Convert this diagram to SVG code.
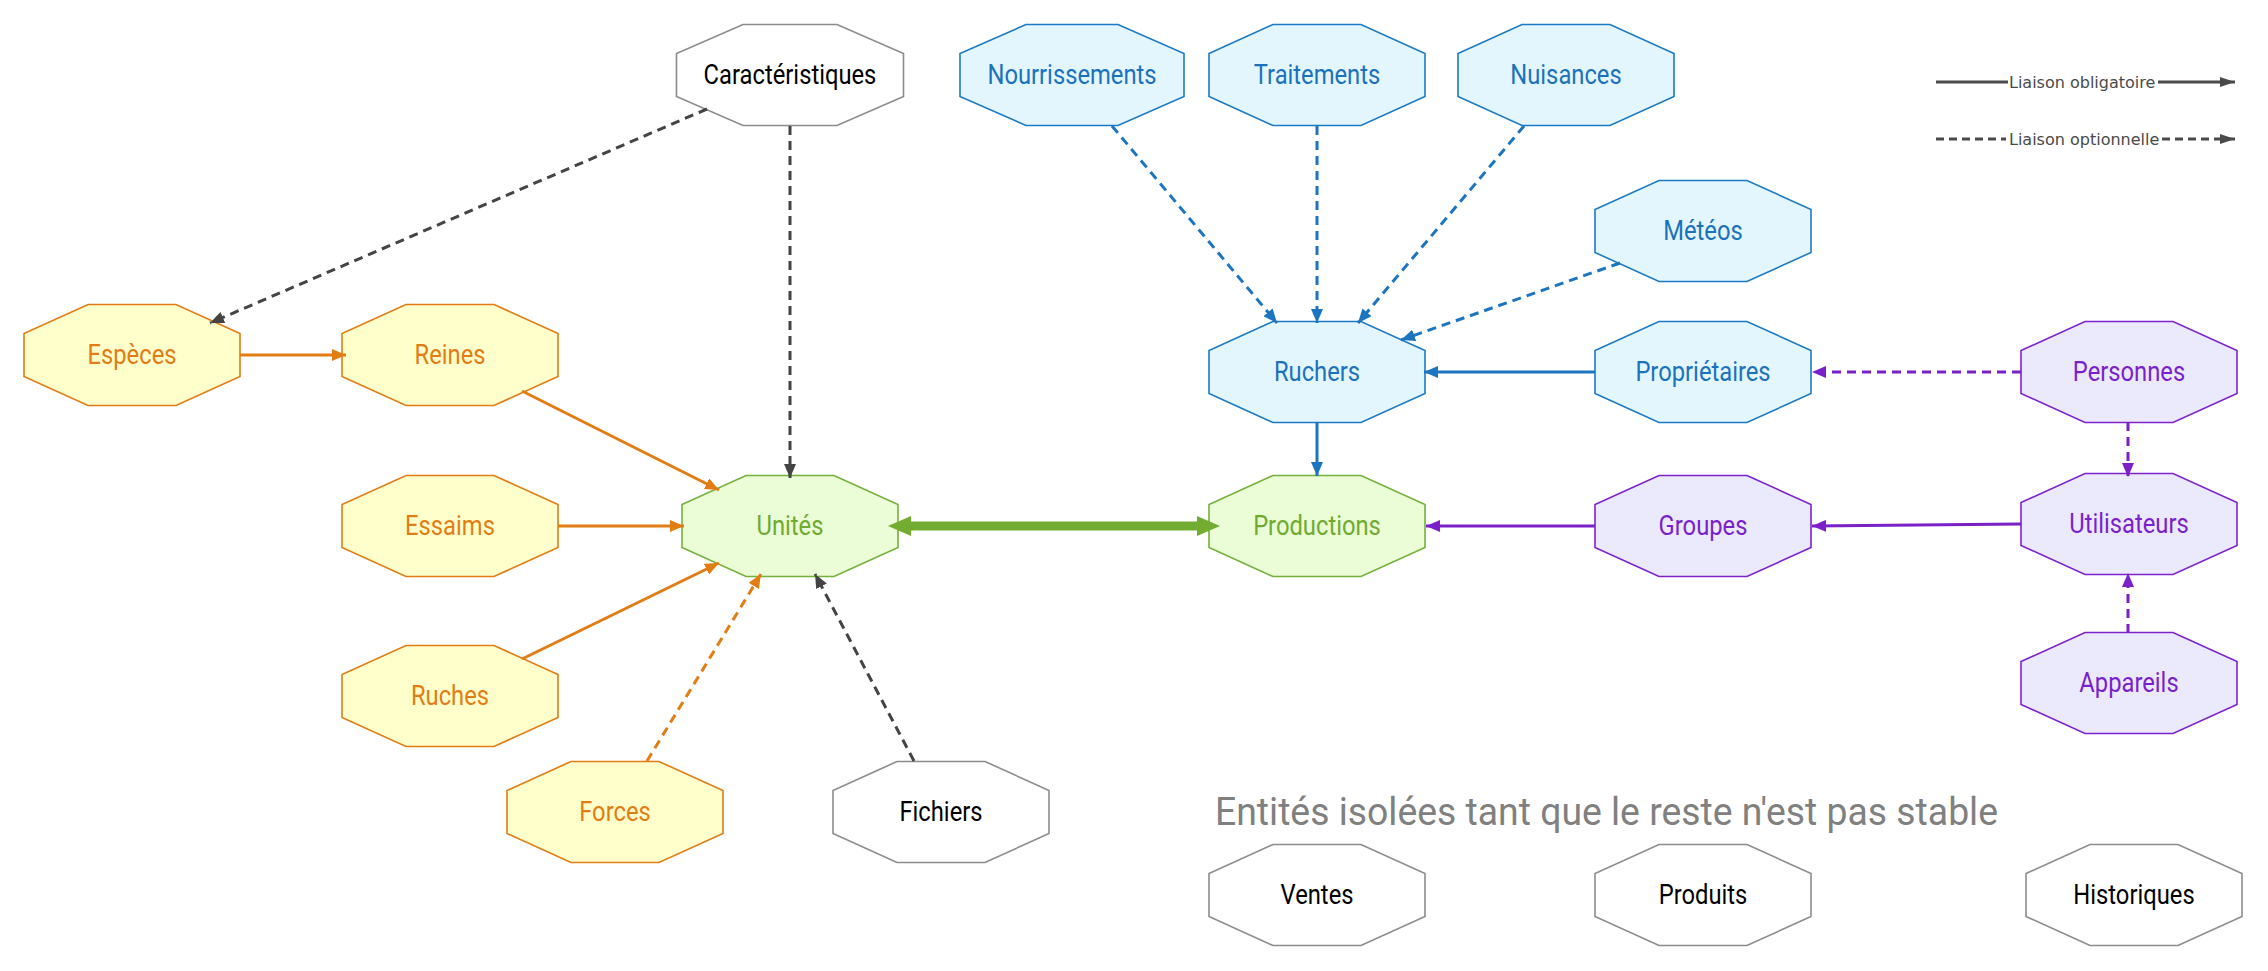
<svg xmlns="http://www.w3.org/2000/svg" width="2268" height="971" viewBox="0 0 2268 971">
<style>
.node use,.node polygon{stroke-width:1.6}
.node text{font-family:Roboto,"Liberation Sans",sans-serif;font-size:27px;text-anchor:middle}
.or use,.or polygon{fill:#ffffcc;stroke:#e27d14}.or text{fill:#e27d14}
.gr use,.gr polygon{fill:#ebfdd7;stroke:#74b13a}.gr text{fill:#6eab2e}
.bl use,.bl polygon{fill:#e4f6fd;stroke:#1b7ac4}.bl text{fill:#1a72bd}
.pu use,.pu polygon{fill:#ebe9fc;stroke:#7e22ce}.pu text{fill:#7a1fcc}
.gy use,.gy polygon{fill:#ffffff;stroke:#8c8c8c}.gy text{fill:#000000}
.e{fill:none;stroke-width:3}
.d{stroke-dasharray:9 6}
.c-or{stroke:#e27d14}.c-dk{stroke:#444444}.c-bl{stroke:#1b75c0}.c-pu{stroke:#7b1fc9}
.lg{font-family:"DejaVu Sans",Verdana,sans-serif;font-size:16px;fill:#4a4a4a}
.title{font-family:Roboto,"Liberation Sans",sans-serif;font-size:38px;fill:#808080}
</style>
<defs>
<polygon id="oct" points="-44,-50.5 44,-50.5 108,-21.5 108,21.5 44,50.5 -44,50.5 -108,21.5 -108,-21.5"/>
<marker id="m-or" viewBox="0 0 14 12" refX="14" refY="6" markerWidth="14" markerHeight="12" markerUnits="userSpaceOnUse" orient="auto"><path d="M0,0L14,6L0,12z" fill="#e27d14"/></marker>
<marker id="m-dk" viewBox="0 0 14 12" refX="14" refY="6" markerWidth="14" markerHeight="12" markerUnits="userSpaceOnUse" orient="auto"><path d="M0,0L14,6L0,12z" fill="#444444"/></marker>
<marker id="m-bl" viewBox="0 0 14 12" refX="14" refY="6" markerWidth="14" markerHeight="12" markerUnits="userSpaceOnUse" orient="auto"><path d="M0,0L14,6L0,12z" fill="#1b75c0"/></marker>
<marker id="m-pu" viewBox="0 0 14 12" refX="14" refY="6" markerWidth="14" markerHeight="12" markerUnits="userSpaceOnUse" orient="auto"><path d="M0,0L14,6L0,12z" fill="#7b1fc9"/></marker>
<marker id="m-gr" viewBox="0 0 23 20" refX="3" refY="10" markerWidth="23" markerHeight="20" markerUnits="userSpaceOnUse" orient="auto-start-reverse"><path d="M0,0L23,10L0,20z" fill="#72ad32"/></marker>
<marker id="m-lg" viewBox="0 0 15 10" refX="15" refY="5" markerWidth="15" markerHeight="10" markerUnits="userSpaceOnUse" orient="auto"><path d="M0,0L15,5L0,10z" fill="#4a4a4a"/></marker>
</defs>

<g id="n-especes" class="node or" transform="translate(132,355)"><use href="#oct"/><text y="9" transform="scale(0.88,1)">Espèces</text></g>
<g id="n-reines" class="node or" transform="translate(450,355)"><use href="#oct"/><text y="9" transform="scale(0.88,1)">Reines</text></g>
<g id="n-essaims" class="node or" transform="translate(450,526)"><use href="#oct"/><text y="9" transform="scale(0.88,1)">Essaims</text></g>
<g id="n-ruches" class="node or" transform="translate(450,696)"><use href="#oct"/><text y="9" transform="scale(0.88,1)">Ruches</text></g>
<g id="n-forces" class="node or" transform="translate(615,812)"><use href="#oct"/><text y="9" transform="scale(0.88,1)">Forces</text></g>
<g id="n-fichiers" class="node gy" transform="translate(941,812)"><use href="#oct"/><text y="9" transform="scale(0.88,1)">Fichiers</text></g>
<g id="n-unites" class="node gr" transform="translate(790,526)"><use href="#oct"/><text y="9" transform="scale(0.88,1)">Unités</text></g>
<g id="n-caracteristiques" class="node gy" transform="translate(790,75)"><polygon points="-47,-50.5 47,-50.5 113.5,-21.5 113.5,21.5 47,50.5 -47,50.5 -113.5,21.5 -113.5,-21.5"/><text y="9" transform="scale(0.88,1)">Caractéristiques</text></g>
<g id="n-nourrissements" class="node bl" transform="translate(1072,75)"><polygon points="-46,-50.5 46,-50.5 112,-21.5 112,21.5 46,50.5 -46,50.5 -112,21.5 -112,-21.5"/><text y="9" transform="scale(0.88,1)">Nourrissements</text></g>
<g id="n-traitements" class="node bl" transform="translate(1317,75)"><use href="#oct"/><text y="9" transform="scale(0.88,1)">Traitements</text></g>
<g id="n-nuisances" class="node bl" transform="translate(1566,75)"><use href="#oct"/><text y="9" transform="scale(0.88,1)">Nuisances</text></g>
<g id="n-meteos" class="node bl" transform="translate(1703,231)"><use href="#oct"/><text y="9" transform="scale(0.88,1)">Météos</text></g>
<g id="n-ruchers" class="node bl" transform="translate(1317,372)"><use href="#oct"/><text y="9" transform="scale(0.88,1)">Ruchers</text></g>
<g id="n-proprietaires" class="node bl" transform="translate(1703,372)"><use href="#oct"/><text y="9" transform="scale(0.88,1)">Propriétaires</text></g>
<g id="n-personnes" class="node pu" transform="translate(2129,372)"><use href="#oct"/><text y="9" transform="scale(0.88,1)">Personnes</text></g>
<g id="n-productions" class="node gr" transform="translate(1317,526)"><use href="#oct"/><text y="9" transform="scale(0.88,1)">Productions</text></g>
<g id="n-groupes" class="node pu" transform="translate(1703,526)"><use href="#oct"/><text y="9" transform="scale(0.88,1)">Groupes</text></g>
<g id="n-utilisateurs" class="node pu" transform="translate(2129,524)"><use href="#oct"/><text y="9" transform="scale(0.88,1)">Utilisateurs</text></g>
<g id="n-appareils" class="node pu" transform="translate(2129,683)"><use href="#oct"/><text y="9" transform="scale(0.88,1)">Appareils</text></g>
<g id="n-ventes" class="node gy" transform="translate(1317,895)"><use href="#oct"/><text y="9" transform="scale(0.88,1)">Ventes</text></g>
<g id="n-produits" class="node gy" transform="translate(1703,895)"><use href="#oct"/><text y="9" transform="scale(0.88,1)">Produits</text></g>
<g id="n-historiques" class="node gy" transform="translate(2134,895)"><use href="#oct"/><text y="9" transform="scale(0.88,1)">Historiques</text></g>

<text id="isolated-title" class="title" x="1215" y="825" textLength="783" lengthAdjust="spacingAndGlyphs">Entités isolées tant que le reste n'est pas stable</text>

<g id="connectors">
<path class="e d c-dk" d="M707,109L210,323" marker-end="url(#m-dk)"/>
<path class="e d c-dk" d="M790,126L790,478" marker-end="url(#m-dk)"/>
<path class="e c-or" d="M240,355L346,355" marker-end="url(#m-or)"/>
<path class="e c-or" d="M522,391L719,490" marker-end="url(#m-or)"/>
<path class="e c-or" d="M558,526L684,526" marker-end="url(#m-or)"/>
<path class="e c-or" d="M522,659L719,563" marker-end="url(#m-or)"/>
<path class="e d c-or" d="M647,761L761,574" marker-end="url(#m-or)"/>
<path class="e d c-dk" d="M914,761L815,574" marker-end="url(#m-dk)"/>
<path fill="none" stroke="#72ad32" stroke-width="9" d="M908,526L1200,526" marker-start="url(#m-gr)" marker-end="url(#m-gr)"/>
<path class="e d c-bl" d="M1112,126L1277,323" marker-end="url(#m-bl)"/>
<path class="e d c-bl" d="M1317,126L1317,323" marker-end="url(#m-bl)"/>
<path class="e d c-bl" d="M1524,126L1358,323" marker-end="url(#m-bl)"/>
<path class="e d c-bl" d="M1620,263L1401,340" marker-end="url(#m-bl)"/>
<path class="e c-bl" d="M1317,422L1317,476" marker-end="url(#m-bl)"/>
<path class="e c-bl" d="M1595,372L1424,372" marker-end="url(#m-bl)"/>
<path class="e d c-pu" d="M2021,372L1812,372" marker-end="url(#m-pu)"/>
<path class="e d c-pu" d="M2128,422L2128,477" marker-end="url(#m-pu)"/>
<path class="e c-pu" d="M2021,524L1812,526" marker-end="url(#m-pu)"/>
<path class="e c-pu" d="M1595,526L1426,526" marker-end="url(#m-pu)"/>
<path class="e d c-pu" d="M2128,633L2128,573" marker-end="url(#m-pu)"/>
</g>

<g id="legend">
<path fill="none" stroke="#4a4a4a" stroke-width="3" d="M1936,82L2008,82"/>
<text class="lg" x="2009" y="88">Liaison obligatoire</text>
<path fill="none" stroke="#4a4a4a" stroke-width="3" d="M2158,82L2235,82" marker-end="url(#m-lg)"/>
<path fill="none" stroke="#4a4a4a" stroke-width="3" stroke-dasharray="8 5" d="M1936,139L2006,139"/>
<text class="lg" x="2009" y="145">Liaison optionnelle</text>
<path fill="none" stroke="#4a4a4a" stroke-width="3" stroke-dasharray="8 5" d="M2162,139L2235,139" marker-end="url(#m-lg)"/>
</g>
</svg>
